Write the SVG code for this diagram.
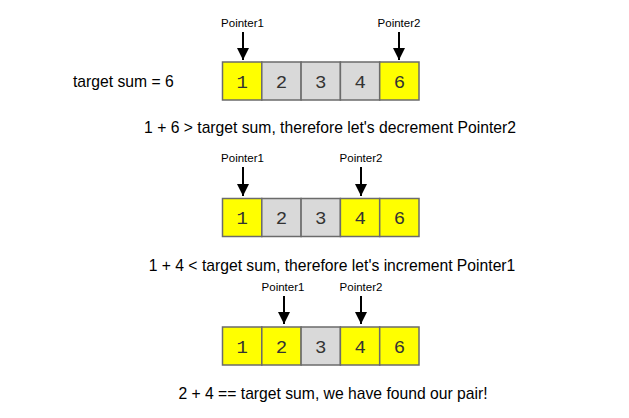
<svg xmlns="http://www.w3.org/2000/svg" width="629" height="418" viewBox="0 0 629 418">
<style>
.cell{stroke:#6b6b6b;stroke-width:1.5}
.y{fill:#ffff00}
.g{fill:#d9d9d9}
.num{font-family:"Liberation Mono","Courier New",monospace;font-size:19px;fill:#333;text-anchor:middle}
.lbl{font-family:"Liberation Sans",Arial,sans-serif;font-size:11.5px;fill:#000;text-anchor:middle}
.cap{font-family:"Liberation Sans",Arial,sans-serif;font-size:15.7px;fill:#000}
.arr{stroke:#000;stroke-width:2;fill:none}
</style>
<defs>
<marker id="ah" viewBox="0 0 10 10" refX="10" refY="5" markerWidth="6" markerHeight="6" markerUnits="strokeWidth" orient="auto">
<path d="M0,0 L10,5 L0,10 z" fill="#000"/>
</marker>
</defs>
<rect width="629" height="418" fill="#fff"/>
<text class="cap" x="73" y="86.5">target sum = 6</text>

<g id="row1">
<rect class="cell y" x="222.5" y="62" width="39.3" height="38"/>
<rect class="cell g" x="261.8" y="62" width="39.3" height="38"/>
<rect class="cell g" x="301.1" y="62" width="39.3" height="38"/>
<rect class="cell g" x="340.4" y="62" width="39.3" height="38"/>
<rect class="cell y" x="379.7" y="62" width="39.3" height="38"/>
<text class="num" x="242.2" y="87.5">1</text>
<text class="num" x="281.5" y="87.5">2</text>
<text class="num" x="320.8" y="87.5">3</text>
<text class="num" x="360.1" y="87.5">4</text>
<text class="num" x="399.4" y="87.5">6</text>
</g>
<g id="pointers1">
<text class="lbl" x="242.5" y="26.5">Pointer1</text>
<text class="lbl" x="399" y="26.5">Pointer2</text>
</g>
<text class="cap" x="330" y="133" text-anchor="middle">1 + 6 &gt; target sum, therefore let's decrement Pointer2</text>

<g id="row2">
<rect class="cell y" x="222.5" y="198.5" width="39.3" height="38"/>
<rect class="cell g" x="261.8" y="198.5" width="39.3" height="38"/>
<rect class="cell g" x="301.1" y="198.5" width="39.3" height="38"/>
<rect class="cell y" x="340.4" y="198.5" width="39.3" height="38"/>
<rect class="cell y" x="379.7" y="198.5" width="39.3" height="38"/>
<text class="num" x="242.2" y="224">1</text>
<text class="num" x="281.5" y="224">2</text>
<text class="num" x="320.8" y="224">3</text>
<text class="num" x="360.1" y="224">4</text>
<text class="num" x="399.4" y="224">6</text>
</g>
<g id="pointers2">
<text class="lbl" x="242.5" y="161.5">Pointer1</text>
<text class="lbl" x="361" y="161.5">Pointer2</text>
</g>
<text class="cap" x="332" y="270.5" text-anchor="middle">1 + 4 &lt; target sum, therefore let's increment Pointer1</text>

<g id="row3">
<rect class="cell y" x="222.5" y="327" width="39.3" height="38"/>
<rect class="cell y" x="261.8" y="327" width="39.3" height="38"/>
<rect class="cell g" x="301.1" y="327" width="39.3" height="38"/>
<rect class="cell y" x="340.4" y="327" width="39.3" height="38"/>
<rect class="cell y" x="379.7" y="327" width="39.3" height="38"/>
<text class="num" x="242.2" y="352.5">1</text>
<text class="num" x="281.5" y="352.5">2</text>
<text class="num" x="320.8" y="352.5">3</text>
<text class="num" x="360.1" y="352.5">4</text>
<text class="num" x="399.4" y="352.5">6</text>
</g>
<g id="pointers3">
<text class="lbl" x="283" y="290.5">Pointer1</text>
<text class="lbl" x="361" y="290.5">Pointer2</text>
</g>
<text class="cap" x="333" y="398.5" text-anchor="middle">2 + 4 == target sum, we have found our pair!</text>

<g id="connectors">
<line class="arr" x1="243" y1="32" x2="243" y2="60" marker-end="url(#ah)"/>
<line class="arr" x1="399" y1="32" x2="399" y2="60" marker-end="url(#ah)"/>
<line class="arr" x1="243" y1="167" x2="243" y2="196" marker-end="url(#ah)"/>
<line class="arr" x1="361" y1="167" x2="361" y2="196" marker-end="url(#ah)"/>
<line class="arr" x1="284" y1="296" x2="284" y2="324" marker-end="url(#ah)"/>
<line class="arr" x1="361" y1="296" x2="361" y2="324" marker-end="url(#ah)"/>
</g>
</svg>
